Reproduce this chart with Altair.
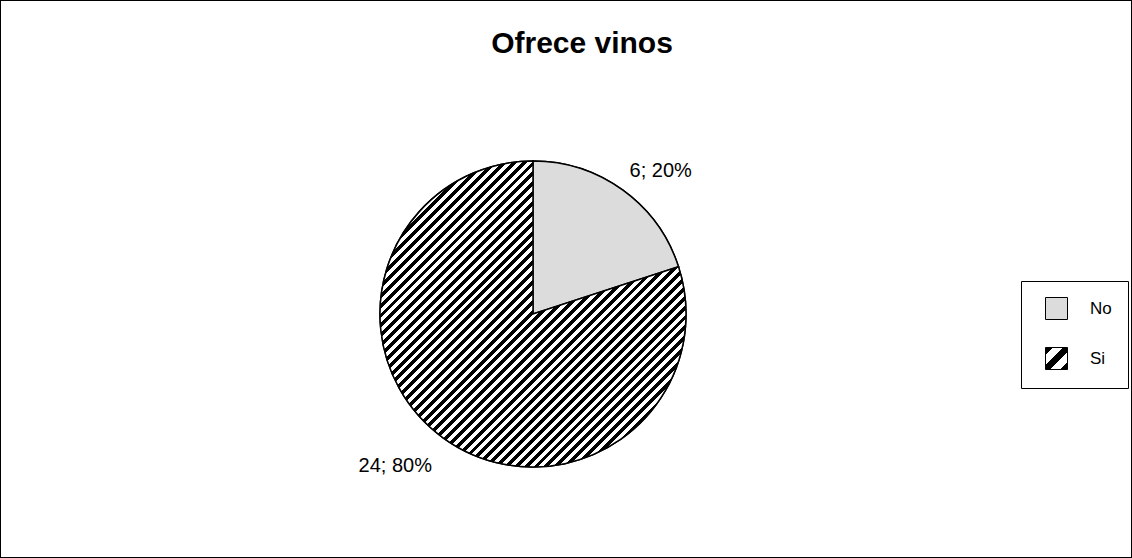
import altair as alt
import pandas as pd

categories = ["No", "Si"]
counts = [6, 24]
order_idx = [0, 1]

df = pd.DataFrame({"cat": categories, "value": counts, "idx": order_idx})

GRAY = "#dcdcdc"
FONT = "Liberation Sans"


def stripe_stops(n):
    s = []
    for k in range(n):
        a, b, c = k / n, (k + 0.5) / n, (k + 1) / n
        s += [
            {"offset": round(a, 5), "color": "white"},
            {"offset": round(b, 5), "color": "white"},
            {"offset": round(b, 5), "color": "black"},
            {"offset": round(c, 5), "color": "black"},
        ]
    return s


big_hatch = {"gradient": "linear", "x1": 0, "y1": 0, "x2": 1, "y2": 1,
             "stops": stripe_stops(62)}

# legend swatch hatch: black corner, white, black, white, black corner
small_bands = [(0.0, 0.16, "black"), (0.16, 0.4, "white"), (0.4, 0.6, "black"),
               (0.6, 0.84, "white"), (0.84, 1.0, "black")]
small_stops = []
for a, b, col in small_bands:
    small_stops += ["{offset:%s,color:'%s'}" % (a, col), "{offset:%s,color:'%s'}" % (b, col)]
small_hatch_expr = "{gradient:'linear',x1:0,y1:0,x2:1,y2:1,stops:[" + ",".join(small_stops) + "]}"

CX, CY, R = 533, 314, 153

base = alt.Chart(df).transform_joinaggregate(
    total="sum(value)"
).transform_calculate(
    label="datum.value + '; ' + round(datum.value / datum.total * 100) + '%'"
).encode(
    theta=alt.Theta("value:Q", stack=True),
    order=alt.Order("idx:Q"),
)

legend_pie = base.mark_arc(radius=R, stroke="black", strokeWidth=1.5).encode(
    x=alt.value(CX),
    y=alt.value(CY),
    fill=alt.Fill(
        "cat:N",
        scale=alt.Scale(domain=categories, range=[GRAY, alt.ExprRef(expr=small_hatch_expr)]),
        legend=alt.Legend(
            title=None,
            orient="none",
            legendX=1021,
            legendY=281,
            padding=16,
            strokeColor="black",
            fillColor="white",
            symbolType="square",
            symbolSize=484,
            symbolStrokeColor="black",
            symbolStrokeWidth=1,
            labelFontSize=17,
            labelFont=FONT,
            labelColor="black",
            labelOffset=22,
            rowPadding=23,
            symbolOffset=8,
        ),
    ),
)

top_pie = base.mark_arc(radius=R, stroke="black", strokeWidth=1.5).encode(
    x=alt.value(CX),
    y=alt.value(CY),
    fill=alt.condition(alt.datum.cat == "Si", alt.value(big_hatch), alt.value(GRAY)),
)

labels = base.mark_text(
    radius=185,
    fontSize=20,
    font=FONT,
    color="black",
    align="center",
    baseline="middle",
    dx=alt.ExprRef(expr="datum.cat == 'No' ? 19 : -29"),
    dy=alt.ExprRef(expr="datum.cat == 'No' ? 7 : 2"),
).encode(
    x=alt.value(CX),
    y=alt.value(CY),
    text="label:N",
)

chart = alt.layer(legend_pie, top_pie, labels).properties(
    width=1132,
    height=558,
    autosize=alt.AutoSizeParams(type="none"),
    padding=0,
    title=alt.TitleParams(
        "Ofrece vinos",
        fontSize=30,
        font=FONT,
        fontWeight="bold",
        color="black",
        anchor="middle",
        offset=-59,
        dx=16,
    ),
).configure_view(stroke="black", strokeWidth=2)

chart.save("out.html", embed_options={"renderer": "svg", "actions": False})
